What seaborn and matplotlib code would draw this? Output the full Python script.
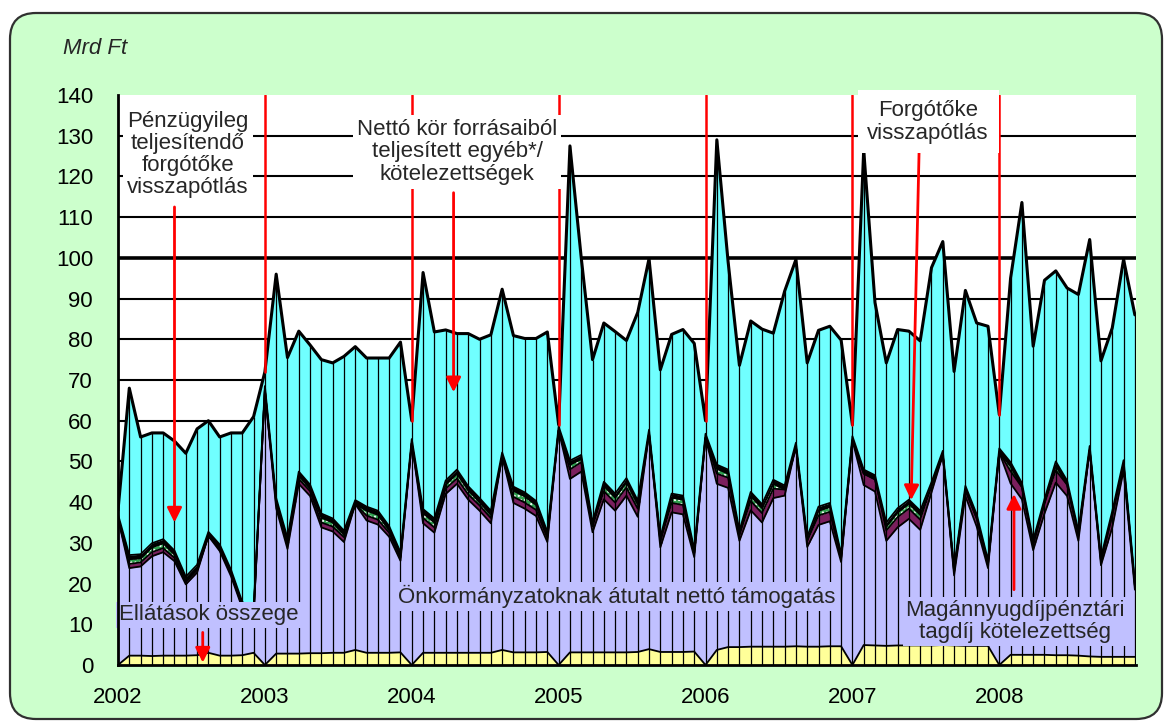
import numpy as np
import pandas as pd
import matplotlib
matplotlib.use('Agg')
import matplotlib.pyplot as plt
import seaborn as sns
from matplotlib.patches import FancyBboxPatch

# ---------------------------------------------------------------- data
# 13 pont évente (2002..2008), Mrd Ft
evek = ['2002', '2003', '2004', '2005', '2006', '2007', '2008']
pont_per_ev = 13

ellatasok = [0, 2.3, 2.3, 2.2, 2.3, 2.3, 2.3, 2.4, 3.0, 2.3, 2.3, 2.4, 3.0,
             0, 2.8, 2.8, 2.8, 2.9, 2.9, 3.0, 3.0, 3.7, 3.0, 3.0, 3.0, 3.1,
             0, 3.0, 3.0, 3.0, 3.0, 3.0, 3.0, 3.0, 3.7, 3.1, 3.1, 3.1, 3.2,
             0, 3.1, 3.1, 3.1, 3.1, 3.1, 3.1, 3.2, 3.9, 3.2, 3.2, 3.2, 3.3,
             0, 3.7, 4.4, 4.4, 4.5, 4.5, 4.5, 4.5, 4.6, 4.5, 4.5, 4.6, 4.6,
             0, 4.9, 4.8, 4.7, 4.8, 4.8, 4.8, 4.8, 4.9, 4.8, 4.7, 4.7, 4.7,
             0, 2.5, 2.5, 2.5, 2.5, 2.4, 2.4, 2.3, 2.1, 2.0, 2.0, 2.0, 2.0]

onkormanyzat = [36.0, 21.5, 21.9, 24.5, 25.4, 23.2, 17.5, 20.3, 28.7, 25.7, 19.5, 11.6, 9.0,
                67.5, 35.7, 25.7, 41.7, 38.6, 30.9, 29.8, 27.2, 35.8, 32.5, 31.5, 28.5, 22.5,
                54.5, 31.8, 29.5, 39.0, 41.5, 37.6, 34.9, 31.8, 47.5, 36.7, 35.3, 33.5, 27.0,
                57.6, 42.6, 44.4, 29.5, 37.6, 34.8, 38.5, 33.2, 52.9, 25.7, 34.3, 33.8, 23.2,
                55.8, 40.8, 39.1, 26.1, 33.5, 30.5, 36.5, 37.1, 49.0, 24.5, 29.9, 30.7, 20.7,
                55.2, 39.3, 37.8, 25.8, 29.0, 31.1, 28.4, 37.6, 46.7, 17.2, 36.8, 29.3, 19.1,
                52.2, 42.1, 38.2, 25.7, 34.7, 42.4, 39.1, 28.2, 50.7, 22.5, 31.8, 45.8, 16.5]

magannyugdij = [0, 1.0, 1.0, 1.0, 1.0, 0.8, 0.6, 0.6, 0, 0.6, 0.6, 0.5, 0.5,
                0, 1.0, 1.2, 1.2, 1.2, 1.2, 1.2, 1.2, 0, 1.2, 1.2, 1.0, 0.8,
                0, 1.3, 1.3, 1.3, 1.3, 1.3, 1.3, 1.3, 0, 1.5, 1.5, 1.5, 1.0,
                0, 2.3, 2.3, 1.5, 2.0, 2.0, 2.0, 2.0, 0, 1.5, 2.3, 2.3, 1.0,
                0, 2.5, 2.5, 1.5, 2.3, 2.3, 2.3, 1.5, 0, 1.5, 2.3, 2.3, 1.0,
                0, 2.8, 3.0, 2.5, 2.5, 2.5, 2.5, 1.5, 0, 1.0, 1.5, 2.0, 1.0,
                0, 3.0, 3.0, 1.5, 2.5, 3.0, 2.8, 1.5, 0, 1.0, 3.0, 1.5, 1.0]

forgotoke = [0, 1.2, 1.0, 1.2, 1.2, 0.8, 0.3, 0.3, 0, 0, 0, 0, 0,
             0, 0.5, 0.5, 0.8, 0.6, 1.2, 1.0, 0.6, 0, 1.2, 1.2, 0.6, 0.3,
             0, 1.2, 1.2, 1.0, 1.2, 1.0, 0.8, 0.8, 0, 1.5, 1.5, 1.2, 0.5,
             0, 1.2, 0.8, 0, 1.3, 1.2, 1.3, 1.0, 0, 0, 1.3, 1.3, 0,
             0, 1.2, 1.0, 0, 1.2, 1.2, 1.2, 0, 0, 0, 1.2, 1.2, 0,
             0, 0, 0, 1.0, 1.2, 1.2, 1.2, 0, 0, 0, 0, 0, 0,
             0, 1.2, 0, 0, 0, 1.2, 0, 0, 0, 0, 0, 0, 0]

penzugyi = [1.0, 1.0, 1.0, 1.0, 1.0, 1.0, 1.0, 1.0, 1.0, 1.0, 1.0, 1.0, 1.0,
            1.0, 1.0, 1.0, 1.0, 1.0, 1.0, 1.0, 1.0, 1.0, 1.0, 1.0, 1.0, 1.0,
            1.0, 1.0, 1.0, 1.0, 1.0, 1.0, 1.0, 1.0, 1.0, 1.0, 1.0, 1.0, 1.0,
            1.0, 1.0, 1.0, 1.0, 1.0, 1.0, 1.0, 1.0, 1.0, 1.0, 1.0, 1.0, 1.0,
            1.0, 1.0, 1.0, 1.0, 1.0, 1.0, 1.0, 1.0, 1.0, 1.0, 1.0, 1.0, 1.0,
            1.0, 1.0, 1.0, 1.0, 1.0, 1.0, 1.0, 1.0, 1.0, 1.0, 1.0, 1.0, 1.0,
            1.0, 1.0, 1.0, 1.0, 1.0, 1.0, 1.0, 1.0, 1.0, 1.0, 1.0, 1.0, 1.0]

netto = [1.0, 41.0, 28.8, 27.1, 26.1, 26.9, 30.3, 33.4, 27.3, 26.4, 33.6, 41.5, 47.5,
         3.5, 55.0, 44.3, 34.5, 34.3, 37.8, 38.2, 42.8, 37.7, 36.5, 37.5, 41.3, 51.6,
         4.5, 58.1, 45.8, 37.0, 33.4, 37.5, 39.0, 43.2, 40.1, 37.1, 37.8, 39.9, 49.1,
         0.4, 77.3, 48.4, 39.9, 39.0, 39.8, 33.8, 46.2, 42.0, 41.1, 39.1, 40.8, 50.5,
         3.2, 79.8, 51.0, 40.6, 42.0, 43.0, 36.0, 47.7, 45.0, 42.7, 43.3, 43.4, 52.5,
         2.8, 78.5, 42.4, 39.2, 43.9, 41.4, 41.7, 52.7, 51.4, 48.1, 48.0, 47.0, 57.4,
         8.3, 45.2, 68.9, 47.6, 53.8, 46.8, 47.3, 58.0, 50.7, 48.2, 45.0, 49.3, 65.5]

# ---------------------------------------------------------------- setup
sns.set_style('white')
plt.rcParams['font.family'] = ['Liberation Sans', 'DejaVu Sans']

FS = 16
W, H = 1168, 722
fig = plt.figure(figsize=(W / 100, H / 100), dpi=100)
fig.patch.set_facecolor('white')

# rounded light green frame
frame = FancyBboxPatch((10, 3), 1152, 706, boxstyle='round,pad=0,rounding_size=26',
                       transform=None, facecolor='#CCFFCC', edgecolor='#303030',
                       linewidth=1.6, zorder=-5)
fig.patches.append(frame)

ax = fig.add_axes([118 / W, 1 - 665 / H, (1136 - 118) / W, (665 - 95) / H])
ax.set_facecolor('white')

n = len(netto)
x = np.arange(n)
layers = [('ellatasok', ellatasok, '#FFFF99'),
          ('onkormanyzat', onkormanyzat, '#C0C0FF'),
          ('magannyugdij', magannyugdij, '#7B1F5E'),
          ('forgotoke', forgotoke, '#2F9F4F'),
          ('penzugyi', penzugyi, '#000000'),
          ('netto', netto, '#70FFFF')]

df = pd.DataFrame({name: vals for name, vals, _ in layers})
cum = df.cumsum(axis=1)

# gridlines
for v in range(10, 140, 10):
    ax.axhline(v, color='black', lw=2.6 if v == 100 else 1.5, zorder=0.5)

bottom = np.zeros(n)
for name, vals, col in layers:
    top = cum[name].values
    if name == 'forgotoke':
        ax.fill_between(x, bottom, top, facecolor=col, edgecolor='white',
                        hatch='....', linewidth=0, zorder=1)
    else:
        ax.fill_between(x, bottom, top, facecolor=col, linewidth=0, zorder=1)
    bottom = top

total = cum['netto'].values
# drop lines
ax.vlines(x, 0, total, colors='black', lw=0.9, zorder=2)

# boundary lines
long = cum.copy()
long['x'] = x
long = long.melt(id_vars='x', var_name='reteg', value_name='szint')
sns.lineplot(data=long[long.reteg != 'netto'], x='x', y='szint', units='reteg',
             estimator=None, color='black', linewidth=1.3, legend=False, ax=ax, zorder=3)
sns.lineplot(x=x, y=total, color='black', linewidth=2.2, ax=ax, zorder=3)

# red year separators
for k in range(pont_per_ev, n, pont_per_ev):
    ax.plot([k, k], [140, total[k]], color='red', lw=1.8, zorder=4)

# arrows
arr = dict(arrowstyle='-|>', color='red', lw=2, mutation_scale=22, shrinkA=0, shrinkB=0)
ax.annotate('', xy=(5.0, 35.0), xytext=(5.0, 112.5), arrowprops=arr, zorder=5)
ax.annotate('', xy=(29.7, 67.0), xytext=(29.7, 116.0), arrowprops=arr, zorder=5)
ax.annotate('', xy=(7.5, 0.6), xytext=(7.5, 8.0), arrowprops=arr, zorder=5)
ax.annotate('', xy=(70.2, 40.5), xytext=(70.9, 126.0), arrowprops=arr, zorder=5)
ax.annotate('', xy=(79.3, 42.0), xytext=(79.3, 18.5), arrowprops=arr, zorder=5)

# labels
wbox = dict(facecolor='white', edgecolor='none', pad=3)
lbox = dict(facecolor='#C0C0FF', edgecolor='none', pad=2)
ax.text(6.2, 125.4, 'Pénzügyileg\nteljesítendő\nforgótőke\nvisszapótlás', ha='center',
        va='center', fontsize=FS, linespacing=1.08, bbox=wbox, zorder=6)
ax.text(30.0, 126.0, 'Nettó kör forrásaiból\nteljesített egyéb*/\nkötelezettségek',
        ha='center', va='center', fontsize=FS, linespacing=1.08, bbox=wbox, zorder=6)
ax.text(71.7, 133.4, 'Forgótőke\nvisszapótlás', ha='center', va='center', fontsize=FS,
        linespacing=1.08, bbox=dict(facecolor='white', edgecolor='none', pad=7), zorder=6)
ax.text(0.1, 12.3, 'Ellátások összege', ha='left', va='center', fontsize=FS,
        bbox=lbox, zorder=6)
ax.text(44.1, 16.8, 'Önkormányzatoknak átutalt nettó támogatás', ha='center',
        va='center', fontsize=FS, bbox=lbox, zorder=6)
ax.text(79.4, 10.7, 'Magánnyugdíjpénztári\ntagdíj kötelezettség', ha='center',
        va='center', fontsize=FS, linespacing=1.08, bbox=lbox, zorder=6)

fig.text(63 / W, 1 - 48 / H, 'Mrd Ft', fontsize=FS, style='italic', ha='left', va='center')

# axes
ax.set_xlim(0, n - 1 + 0.1)
ax.set_ylim(0, 140)
ax.set_yticks(range(0, 141, 10))
ax.set_xticks(range(0, n, pont_per_ev))
ax.set_xticklabels(evek)
ax.set_xlabel('')
ax.set_ylabel('')
ax.tick_params(axis='both', labelsize=FS, colors='black', direction='out',
               length=6, width=1.5)
ax.tick_params(axis='y', pad=12)
ax.tick_params(axis='x', pad=10)
for s in ['top', 'right']:
    ax.spines[s].set_visible(False)
for s in ['left', 'bottom']:
    ax.spines[s].set_color('black')
    ax.spines[s].set_linewidth(2)
    ax.spines[s].set_zorder(7)

fig.savefig('out.png', dpi=100, facecolor=fig.get_facecolor())
